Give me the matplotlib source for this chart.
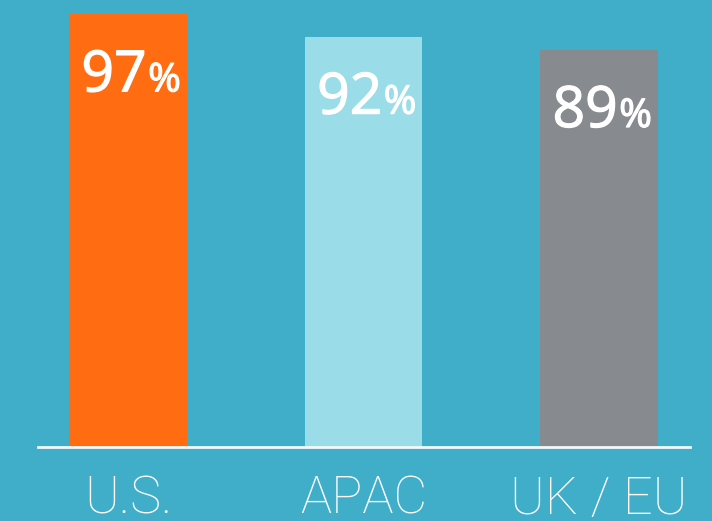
import matplotlib
matplotlib.use("Agg")
import matplotlib.pyplot as plt
import matplotlib.patheffects as pe

categories = ["U.S.", "APAC", "UK / EU"]
values = [97, 92, 89]
colors = ["#FF6C11", "#9ADCE7", "#878B8F"]
bg = "#40AEC8"

fig = plt.figure(figsize=(7.12, 5.21), dpi=100, facecolor=bg)
ax = fig.add_axes([38/712, (521-446.5)/521, (690-38)/712, 446.5/521])
ax.set_facecolor(bg)

x = list(range(len(categories)))
ax.bar(x, values, width=0.5, color=colors, zorder=2)
ax.set_xlim(-0.382, 2.386)
ax.set_ylim(0, 100.2)

for s in ["top", "left", "right"]:
    ax.spines[s].set_visible(False)
ax.spines["bottom"].set_color("#F2F9FB")
ax.spines["bottom"].set_linewidth(2.0)
ax.spines["bottom"].set_zorder(3)
ax.set_yticks([])
ax.set_xticks(x)
ax.set_xticklabels(categories, fontfamily="Roboto", fontweight="light",
                   fontsize=37.5, color="white")
ax.tick_params(axis="x", length=0, pad=20.5)

thick = [pe.withStroke(linewidth=0.9, foreground="white")]
for xi, v in zip(x, values):
    ax.annotate(f"{v}", xy=(xi, v), xytext=(13.5, -55.5), textcoords="offset points",
                ha="right", va="baseline", fontfamily="Open Sans", fontweight="normal",
                fontsize=41, color="white", path_effects=thick)
    ax.annotate("%", xy=(xi, v), xytext=(14.5, -55.5), textcoords="offset points",
                ha="left", va="baseline", fontfamily="Open Sans", fontweight="normal",
                fontsize=28.5, color="white", path_effects=thick)

fig.savefig("out.png", dpi=100, facecolor=bg)
